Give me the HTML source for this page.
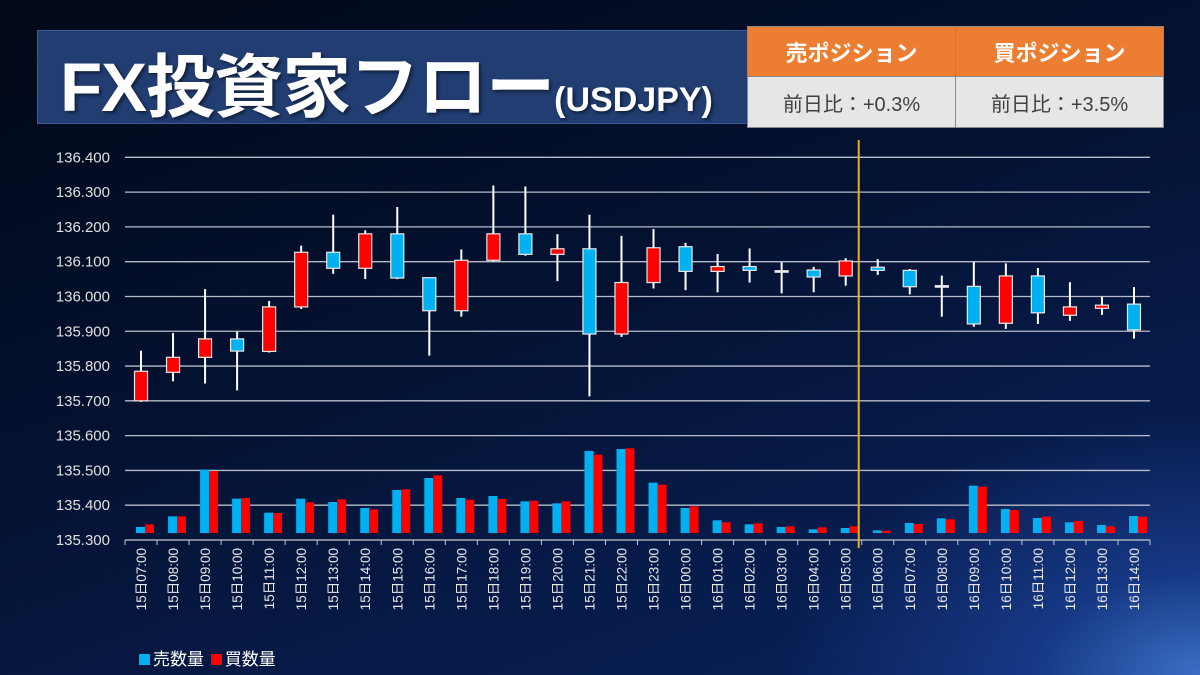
<!DOCTYPE html>
<html><head><meta charset="utf-8">
<style>
html,body{margin:0;padding:0}
body{width:1200px;height:675px;overflow:hidden;position:relative;font-family:"Liberation Sans","Noto Sans CJK JP",sans-serif;
background:radial-gradient(ellipse 420px 260px at 1200px 675px,#3a6fc4 0%,rgba(30,70,160,0.6) 40%,rgba(0,0,0,0) 100%),linear-gradient(160deg,#020817 0%,#041232 45%,#0a2460 100%);}
#title{position:absolute;left:37px;top:30px;width:713px;height:94px;background:#213d72;border:1px solid #3b5a94;box-sizing:border-box;}
#title .main{position:absolute;left:22px;top:0px;color:#fff;font-weight:bold;font-size:69px;letter-spacing:-1px;font-family:"Liberation Sans","Noto Sans CJK JP",sans-serif;white-space:nowrap;text-shadow:2px 2px 3px rgba(0,0,0,.5)}
#title .sub{font-size:34px;letter-spacing:0}
#tbl{position:absolute;left:747px;top:26px;width:417px;height:101px;border-collapse:collapse;}
#tbl td{border:1px solid #8a8a8a;width:50%;text-align:center;padding:0}
#tbl .h td{background:#ed7d31;color:#fff;font-weight:bold;font-size:22px;height:49px;font-family:"Liberation Sans","Noto Sans CJK JP",sans-serif}
#tbl .b td{background:#e7e6e6;color:#404040;font-size:20px;height:50px}
svg{position:absolute;left:0;top:0}
</style></head><body>
<div id="title"><div class="main">FX投資家フロー<span class="sub">(USDJPY)</span></div></div>
<table id="tbl">
<tr class="h"><td>売ポジション</td><td>買ポジション</td></tr>
<tr class="b"><td>前日比：+0.3%</td><td>前日比：+3.5%</td></tr>
</table>
<svg id="chart" width="1200" height="675"></svg>
<div style="position:absolute;left:139px;top:645px;color:#fff;font-size:17px;white-space:nowrap">
<span><span style="display:inline-block;width:11px;height:11px;background:#00b0f0;margin-right:3px"></span>売数量</span>
<span><span style="display:inline-block;width:11px;height:11px;background:#ff0000;margin-right:3px;margin-left:2px"></span>買数量</span>
</div>
<script>
const categories=["15日07:00","15日08:00","15日09:00","15日10:00","15日11:00","15日12:00","15日13:00","15日14:00","15日15:00","15日16:00","15日17:00","15日18:00","15日19:00","15日20:00","15日21:00","15日22:00","15日23:00","16日00:00","16日01:00","16日02:00","16日03:00","16日04:00","16日05:00","16日06:00","16日07:00","16日08:00","16日09:00","16日10:00","16日11:00","16日12:00","16日13:00","16日14:00"];
const opens=[135.700,135.782,135.825,135.878,135.842,135.970,136.127,136.081,136.180,136.054,135.959,136.104,136.180,136.121,136.137,135.892,136.040,136.143,136.072,136.086,136.074,136.076,136.059,136.084,136.075,136.031,136.029,135.923,136.059,135.946,135.966,135.978];
const closes=[135.785,135.825,135.878,135.843,135.970,136.127,136.081,136.180,136.053,135.959,136.104,136.180,136.121,136.137,135.892,136.040,136.140,136.072,136.086,136.075,136.074,136.056,136.102,136.075,136.028,136.031,135.921,136.059,135.953,135.970,135.975,135.904];
const highs=[135.844,135.895,136.021,135.899,135.987,136.146,136.235,136.190,136.257,136.054,136.135,136.319,136.316,136.179,136.235,136.174,136.194,136.154,136.122,136.138,136.098,136.085,136.110,136.107,136.079,136.060,136.099,136.095,136.082,136.041,135.999,136.027];
const lows=[135.697,135.756,135.750,135.730,135.839,135.964,136.065,136.050,136.050,135.830,135.942,136.100,136.117,136.044,135.713,135.884,136.023,136.018,136.012,136.040,136.009,136.012,136.031,136.062,136.006,135.942,135.913,135.907,135.921,135.930,135.947,135.879];
const sellVolume=[18,50,190,103,61,103,93,75,129,165,105,111,95,89,246,252,151,75,38,26,18,11,15,8,30,44,142,72,45,32,24,51];
const buyVolume=[26,50,186,105,60,92,101,71,131,173,100,102,97,95,235,254,145,80,32,29,20,17,20,7,27,41,139,69,49,36,20,49];
const yTicks=[135.3,135.4,135.5,135.6,135.7,135.8,135.9,136.0,136.1,136.2,136.3,136.4];
const markerIndex=23;

const svg=document.getElementById('chart');
const NS='http://www.w3.org/2000/svg';
const X0=125,X1=1150,YTOP=157.3,YBOT=540,VMIN=135.3,VMAX=136.4,VBASE=533;
const band=(X1-X0)/categories.length;
const xc=i=>X0+band*(i+0.5);
const yp=v=>YBOT-(v-VMIN)/(VMAX-VMIN)*(YBOT-YTOP);
const yv=v=>VBASE-v/3;
function mk(tag,attrs){const e=document.createElementNS(NS,tag);for(const k in attrs)e.setAttribute(k,attrs[k]);svg.appendChild(e);return e;}

yTicks.forEach((t,i)=>{
  if(i>0){const g=mk('line',{x1:X0,x2:X1,y1:yp(t),y2:yp(t),stroke:'#b8bcc8','stroke-width':1.3});
  
  }
  const tx=mk('text',{x:110,y:yp(t)+5,'text-anchor':'end',fill:'#e0e0e0','font-size':15,'font-family':'Liberation Sans, sans-serif'});
  tx.textContent=t.toFixed(3);
  
  
});
const ax=mk('line',{x1:X0,x2:X1,y1:YBOT,y2:YBOT,stroke:'#c8c8c8','stroke-width':1.3});



categories.forEach((c,i)=>{
  const tk=mk('line',{x1:X0+band*i,x2:X0+band*i,y1:YBOT,y2:YBOT+5,stroke:'#c8c8c8','stroke-width':1});
  
  
  const x=xc(i)+5;
  const t=mk('text',{x:x,y:548,transform:`rotate(-90 ${x} 548)`,'text-anchor':'end',fill:'#e8e8e8','font-size':13.5,'font-family':'Liberation Sans, Noto Sans CJK JP, sans-serif'});
  t.textContent=c;
  
  
});
const lastTk=mk('line',{x1:X1,x2:X1,y1:YBOT,y2:YBOT+5,stroke:'#c8c8c8','stroke-width':1});



categories.forEach((c,i)=>{
  const b=mk('rect',{x:xc(i)-5,y:yv(sellVolume[i]),width:9,height:VBASE-yv(sellVolume[i]),fill:'#00b0f0'});
  
  
  const r=mk('rect',{x:xc(i)+4,y:yv(buyVolume[i]),width:9,height:VBASE-yv(buyVolume[i]),fill:'#ff0000'});
  
  
});

const mx=X0+band*markerIndex-3;
const ml=mk('line',{x1:mx,x2:mx,y1:140,y2:548,stroke:'#e8b020','stroke-width':2});



categories.forEach((c,i)=>{
  const x=xc(i);
  const w=mk('line',{x1:x,x2:x,y1:yp(highs[i]),y2:yp(lows[i]),stroke:'#ffffff','stroke-width':2});
  
  
  const up=closes[i]>=opens[i];
  const top=yp(Math.max(opens[i],closes[i])),bot=yp(Math.min(opens[i],closes[i]));
  const h=Math.max(bot-top,1.5);
  const r=mk('rect',{x:x-6.5,y:top,width:13,height:h,fill:h<2?'#ffffff':(up?'#ff0000':'#00b0f0'),stroke:'#e8e8e8','stroke-width':1.2});
  
  
});
</script>
</body></html>
